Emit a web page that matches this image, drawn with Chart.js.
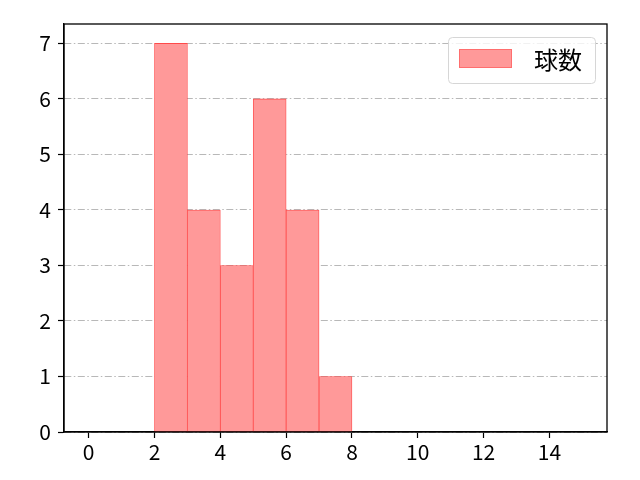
<!DOCTYPE html>
<html>
<head>
<meta charset="utf-8">
<script src="https://cdn.jsdelivr.net/npm/chart.js@4.4.0/dist/chart.umd.min.js"></script>
<style>
  html, body { margin: 0; padding: 0; background: #fff; }
</style>
</head>
<body>
<canvas id="chart" width="640" height="480"></canvas>
<script>
// histogram data
var binEdges = [2, 3, 4, 5, 6, 7, 8];
var counts = [7, 4, 3, 6, 4, 1];
var xTicks = [0, 2, 4, 6, 8, 10, 12, 14];
var yTicks = [0, 1, 2, 3, 4, 5, 6, 7];
var seriesLabel = '球数';

var FONT = '"Noto Sans CJK JP", "Noto Sans", sans-serif';

// one bar per bin, centred between its edges
var points = counts.map(function(c, i) {
  return { x: (binEdges[i] + binEdges[i + 1]) / 2, y: c };
});

// full frame around the plot + legend box in the upper right
var framePlugin = {
  id: 'frameAndLegend',
  afterDraw: function(chart) {
    var ctx = chart.ctx;
    var a = chart.chartArea;
    ctx.save();

    // legend
    ctx.font = '24px ' + FONT;
    var tw = ctx.measureText(seriesLabel).width;
    var boxW = 11 + 53 + 22 + tw + 13;
    var boxH = 46;
    var bx = a.right - 12 - boxW;
    var by = a.top + 13;
    ctx.beginPath();
    ctx.roundRect(bx + 0.5, by + 0.5, boxW, boxH, 4);
    ctx.fillStyle = 'rgba(255,255,255,0.8)';
    ctx.fill();
    ctx.strokeStyle = '#d6d6d6';
    ctx.lineWidth = 1;
    ctx.stroke();

    ctx.fillStyle = '#ff9999';
    ctx.fillRect(bx + 11, by + 12, 53, 19);
    ctx.strokeStyle = '#ff6e6e';
    ctx.strokeRect(bx + 11.5, by + 12.5, 52, 18);

    ctx.fillStyle = '#000';
    ctx.textBaseline = 'middle';
    ctx.textAlign = 'left';
    ctx.fillText(seriesLabel, bx + 11 + 53 + 22, by + boxH / 2);

    // axes frame
    ctx.strokeStyle = '#000';
    ctx.lineWidth = 1.3;
    ctx.strokeRect(a.left, a.top, a.right - a.left, a.bottom - a.top);
    ctx.restore();
  }
};

new Chart(document.getElementById('chart'), {
  type: 'bar',
  data: {
    datasets: [{
      label: seriesLabel,
      data: points,
      backgroundColor: '#ff9999',
      borderColor: '#ff4a4a',
      borderWidth: 0.8,
      borderSkipped: false,
      barPercentage: 1.0,
      categoryPercentage: 1.0
    }]
  },
  options: {
    responsive: false,
    animation: false,
    layout: { padding: { top: 24, right: 33, left: 0, bottom: 0 } },
    plugins: {
      legend: { display: false },
      tooltip: { enabled: false }
    },
    scales: {
      x: {
        type: 'linear',
        offset: false,
        min: -0.75,
        max: 15.75,
        afterBuildTicks: function(scale) {
          scale.ticks = xTicks.map(function(v) { return { value: v }; });
        },
        afterFit: function(scale) { scale.height = 48; },
        ticks: {
          color: '#000',
          font: { family: FONT, size: 21 },
          padding: 1,
          maxRotation: 0,
          autoSkip: false
        },
        grid: {
          display: true,
          offset: false,
          drawOnChartArea: false,
          drawTicks: true,
          tickLength: 6,
          tickColor: '#000',
          tickWidth: 1.2
        },
        border: { display: true, color: '#000', width: 1.3 }
      },
      y: {
        min: 0,
        max: 7.35,
        afterBuildTicks: function(scale) {
          scale.ticks = yTicks.map(function(v) { return { value: v }; });
        },
        afterFit: function(scale) { scale.width = 64; },
        ticks: {
          color: '#000',
          font: { family: FONT, size: 21 },
          padding: 7,
          autoSkip: false
        },
        grid: {
          display: true,
          drawOnChartArea: true,
          drawTicks: true,
          tickLength: 6,
          color: '#b8b8b8',
          lineWidth: 1,
          tickColor: '#000',
          tickWidth: 1.2
        },
        border: { display: true, color: '#000', width: 1.3, dash: [7, 2.5, 1.5, 2.5] }
      }
    }
  },
  plugins: [framePlugin]
});
</script>
</body>
</html>
